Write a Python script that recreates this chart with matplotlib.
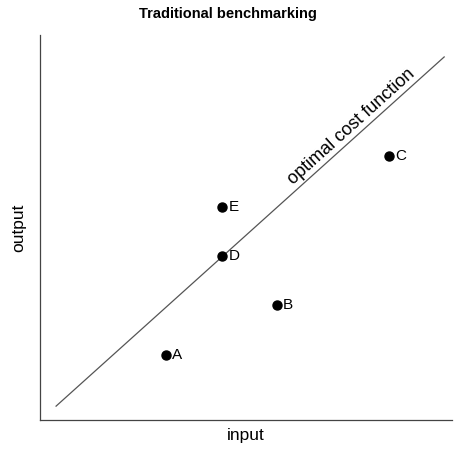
import matplotlib.pyplot as plt
import numpy as np

plt.rcParams["font.family"] = ["Liberation Sans", "DejaVu Sans"]

# firms (input, output)
labels = ["A", "B", "C", "D", "E"]
inputs = [3.06, 5.75, 8.47, 4.42, 4.42]
outputs = [1.69, 2.99, 6.86, 4.26, 5.53]

# optimal cost function end points
line_x = [0.39, 9.81]
line_y = [0.36, 9.43]

fig = plt.figure(figsize=(4.56, 4.53), dpi=100)
ax = fig.add_axes([40 / 456, 33 / 453, 412 / 456, 385 / 453])
ax.set_xlim(0, 10)
ax.set_ylim(0, 10)

ax.plot(line_x, line_y, color="#555555", linewidth=0.9)
ax.plot(inputs, outputs, "o", color="black", markersize=6.5)
for lab, x, y in zip(labels, inputs, outputs):
    ax.text(x + 0.15, y, lab, ha="left", va="center", fontsize=11)

# label along the line
tx = 7.7
ty = line_y[0] + (tx - line_x[0]) * (line_y[1] - line_y[0]) / (line_x[1] - line_x[0])
p1 = ax.transData.transform((line_x[0], line_y[0]))
p2 = ax.transData.transform((line_x[1], line_y[1]))
angle = np.degrees(np.arctan2(p2[1] - p1[1], p2[0] - p1[0]))
ax.text(tx, ty + 0.05, "optimal cost function", rotation=angle,
        rotation_mode="anchor", ha="center", va="bottom", fontsize=13)

ax.set_xticks([])
ax.set_yticks([])
for s in ["top", "right"]:
    ax.spines[s].set_visible(False)
for s in ["left", "bottom"]:
    ax.spines[s].set_color("#444444")
    ax.spines[s].set_linewidth(0.9)

ax.set_xlabel("input", fontsize=12.5, labelpad=6)
ax.set_ylabel("output", fontsize=12.5, labelpad=10)
fig.text(0.5, 1 - 14 / 453, "Traditional benchmarking", ha="center",
         va="center", fontsize=10.5, fontweight="bold")

fig.savefig("out.png", dpi=100)
